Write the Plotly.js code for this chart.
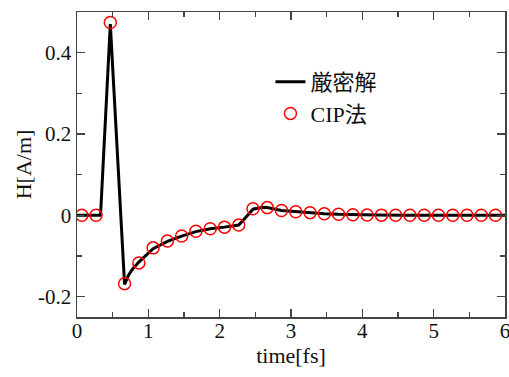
<!DOCTYPE html>
<html>
<head>
<meta charset="utf-8">
<script src="https://cdn.plot.ly/plotly-3.0.1.min.js"></script>
<style>html,body{margin:0;padding:0;background:#fff;}#chart{width:509px;height:377px;}</style>
</head>
<body>
<div id="chart"></div>
<script>
// Exact solution (line)
const exactT = [0, 0.33, 0.467, 0.667, 0.72, 0.78, 0.867, 1.067, 1.267, 1.467, 1.667, 1.867, 2.067, 2.267, 2.33, 2.467, 2.6, 2.667, 2.867, 3.067, 3.267, 3.467, 3.667, 3.867, 4.2, 4.6, 5.0, 5.5, 6.0];
const exactH = [0, 0, 0.47, -0.17, -0.148, -0.132, -0.115, -0.082, -0.064, -0.051, -0.040, -0.033, -0.029, -0.024, -0.012, 0.015, 0.02, 0.019, 0.012, 0.009, 0.0066, 0.004, 0.0025, 0.0015, 0.0008, 0.0003, 0.0001, 0, 0];
// CIP method (markers)
const cipT = [0.067, 0.267, 0.467, 0.667, 0.867, 1.067, 1.267, 1.467, 1.667, 1.867, 2.067, 2.267, 2.467, 2.667, 2.867, 3.067, 3.267, 3.467, 3.667, 3.867, 4.067, 4.267, 4.467, 4.667, 4.867, 5.067, 5.267, 5.467, 5.667, 5.867];
const cipH = [0, 0, 0.474, -0.168, -0.117, -0.080, -0.063, -0.051, -0.039, -0.033, -0.029, -0.024, 0.016, 0.019, 0.012, 0.009, 0.0066, 0.004, 0.0025, 0.0015, 0.001, 0.0005, 0.0003, 0.0002, 0.0001, 0, 0, 0, 0, 0];
const seriesNames = ["厳密解", "CIP法"];
const xTickVals = [0, 1, 2, 3, 4, 5, 6];
const xTickText = ["0", "1", "2", "3", "4", "5", "6"];
const yTickVals = [-0.2, 0, 0.2, 0.4];
const yTickText = ["-0.2", "0", "0.2", "0.4"];

const FONT = "Liberation Serif, Noto Sans CJK JP";

const traces = [
  {x: exactT, y: exactH, mode: "lines", name: seriesNames[0], line: {color: "#000", width: 3}},
  {x: cipT, y: cipH, mode: "markers", name: seriesNames[1],
   marker: {symbol: "circle-open", size: 12, color: "#ff0000", line: {width: 1.5, color: "#ff0000"}}}
];

function axisCommon() {
  return {
    showline: true, linecolor: "#444", linewidth: 1.5, mirror: "ticks",
    ticks: "inside", ticklen: 8, tickwidth: 1.3, tickcolor: "#444",
    showgrid: false, zeroline: false, ticklabeloverflow: "allow",
    tickfont: {family: FONT, size: 21, color: "#111"}
  };
}

const layout = {
  width: 509, height: 377,
  margin: {l: 77, r: 4, t: 12, b: 60},
  paper_bgcolor: "#fff", plot_bgcolor: "#fff",
  font: {family: FONT, color: "#111"},
  showlegend: true,
  legend: {x: 0.452, y: 0.718, xanchor: "left", yanchor: "middle", bgcolor: "rgba(0,0,0,0)",
           font: {family: FONT, size: 22, color: "#111"}, itemwidth: 30, tracegroupgap: 0},
  xaxis: Object.assign(axisCommon(), {
    range: [0, 6], tickmode: "array", tickvals: xTickVals, ticktext: xTickText, ticklabelstandoff: -6,
    minor: {tickmode: "array", tickvals: [0.5, 1.5, 2.5, 3.5, 4.5, 5.5], ticks: "inside", ticklen: 5, tickwidth: 1.3, tickcolor: "#444", showgrid: false},
    title: {text: "time[fs]", font: {family: FONT, size: 22, color: "#111"}, standoff: 6}
  }),
  yaxis: Object.assign(axisCommon(), {
    range: [-0.25, 0.5], tickmode: "array", tickvals: yTickVals, ticktext: yTickText,
    minor: {tickmode: "array", tickvals: [-0.1, 0.1, 0.3], ticks: "inside", ticklen: 5, tickwidth: 1.3, tickcolor: "#444", showgrid: false},
    title: {text: "H[A/m]", font: {family: FONT, size: 22, color: "#111"}, standoff: 0}
  })
};

Plotly.newPlot("chart", traces, layout, {displayModeBar: false, staticPlot: true});
</script>
</body>
</html>
